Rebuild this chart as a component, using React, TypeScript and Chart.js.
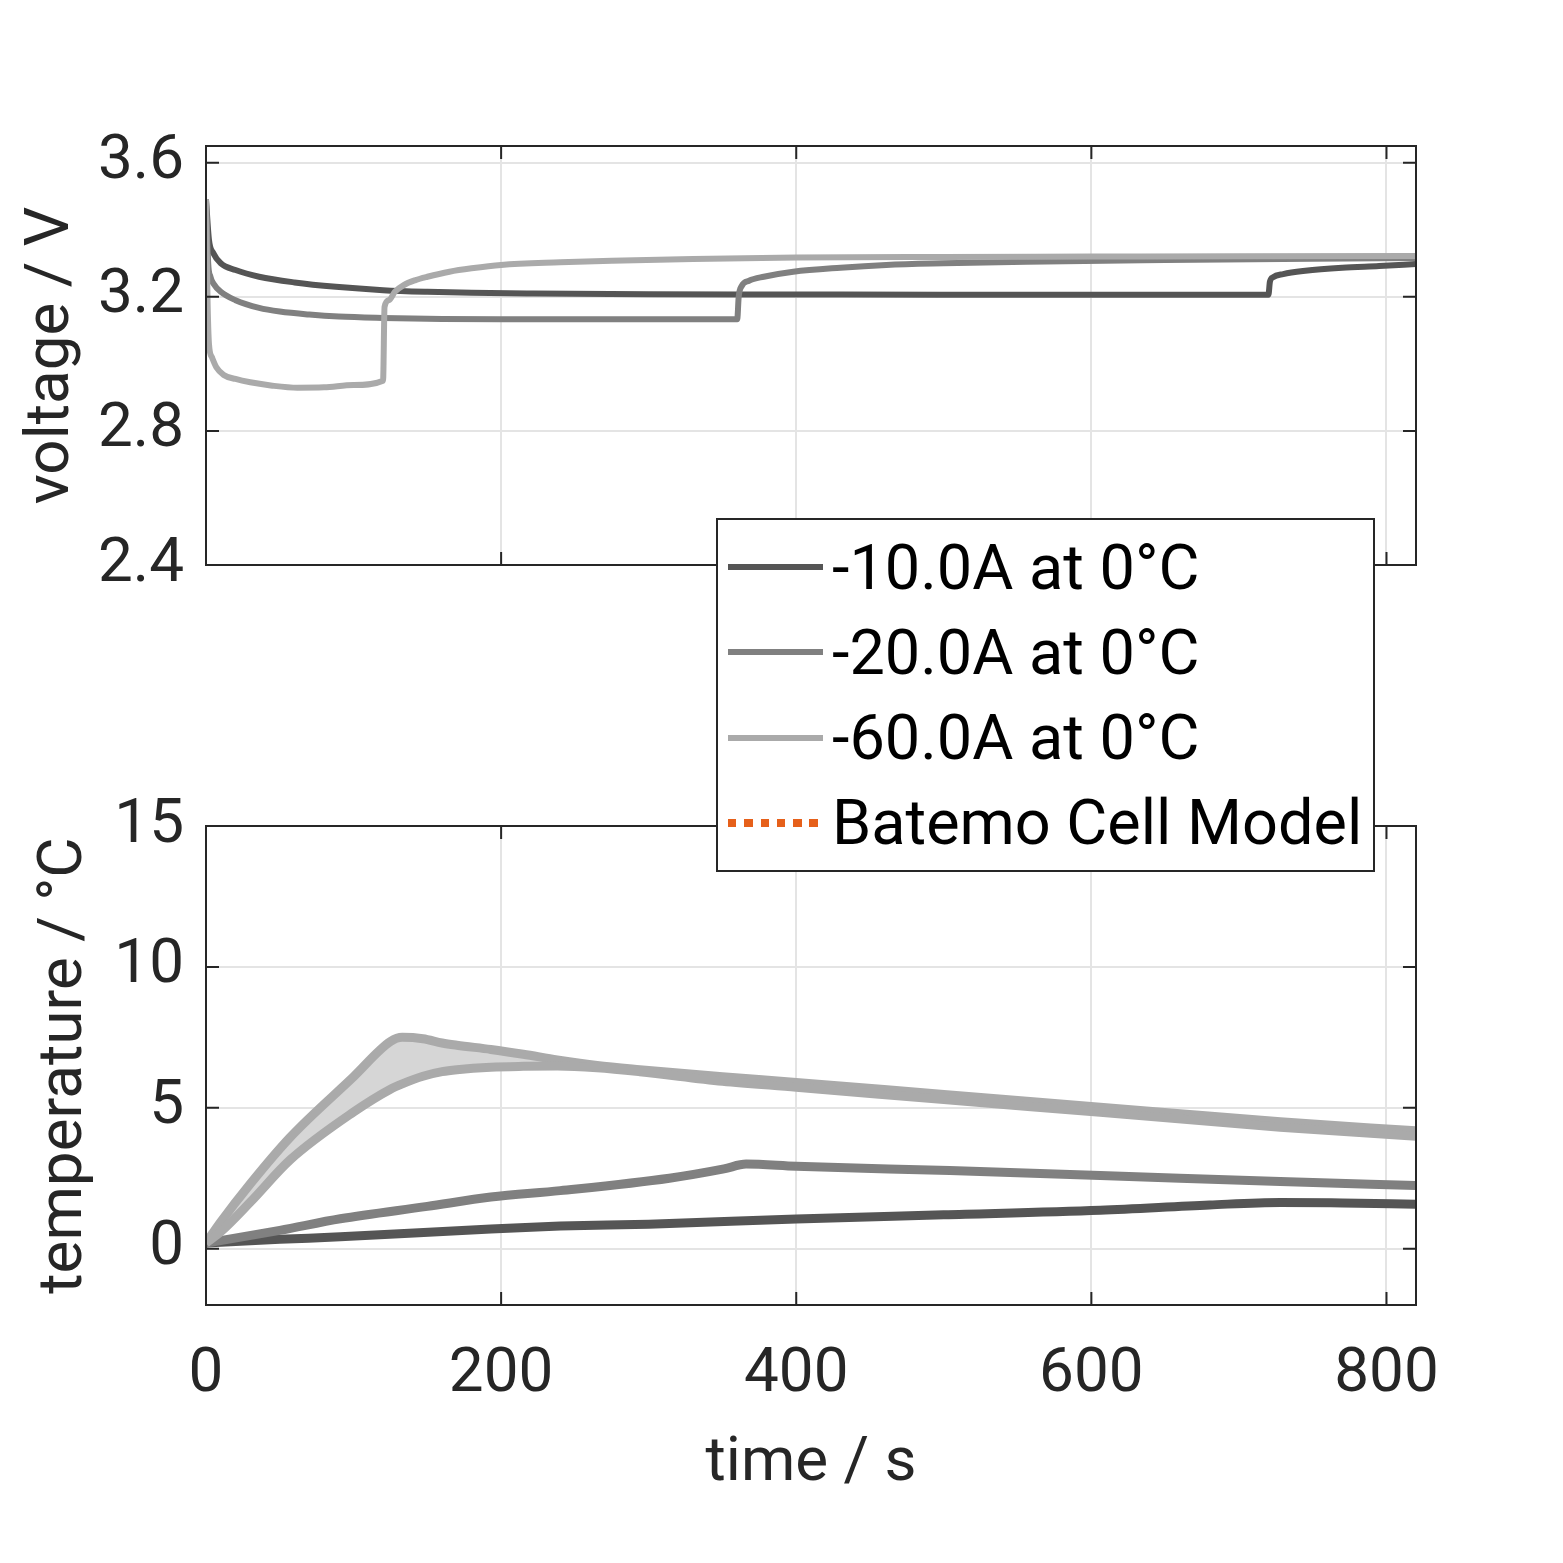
import React, { useEffect, useRef } from 'react';
import Chart from 'chart.js/auto';

// top panel: cell voltage (time in s, voltage in V)
const vTime10 = [0, 2, 5, 10, 20, 36, 60, 88, 120, 150, 180, 222, 300, 400, 500, 600, 720, 721, 723, 730, 745, 770, 795, 820];
const volt10 = [3.49, 3.37, 3.33, 3.3, 3.28, 3.26, 3.243, 3.23, 3.22, 3.215, 3.212, 3.21, 3.208, 3.207, 3.206, 3.206, 3.206, 3.245, 3.258, 3.268, 3.278, 3.287, 3.292, 3.298];

const vTime20 = [0, 1.5, 3, 5, 10, 20, 36, 50, 70, 90, 120, 160, 200, 280, 360, 361, 363, 368, 378, 398, 430, 461, 500, 556, 650, 750, 820];
const volt20 = [3.49, 3.3, 3.26, 3.24, 3.215, 3.19, 3.167, 3.156, 3.147, 3.141, 3.137, 3.134, 3.133, 3.133, 3.133, 3.2, 3.232, 3.248, 3.26, 3.275, 3.287, 3.295, 3.3, 3.305, 3.31, 3.314, 3.316];

const vTime60 = [0, 1, 2, 4, 7, 12, 20, 30, 45, 62, 80, 100, 120, 121, 124, 128, 134, 142, 150, 165, 180, 200, 240, 275, 330, 400, 500, 600, 700, 820];
const volt60 = [3.49, 3.2, 3.06, 3.02, 2.99, 2.967, 2.955, 2.945, 2.935, 2.929, 2.93, 2.937, 2.95, 3.17, 3.19, 3.215, 3.235, 3.25, 3.26, 3.275, 3.285, 3.295, 3.303, 3.308, 3.313, 3.317, 3.319, 3.32, 3.321, 3.322];

// bottom panel: cell temperature (time in s, temperature in °C)
const tTime10 = [0, 50, 91, 193, 240, 300, 400, 500, 606, 680, 728, 770, 820];
const temp10 = [0.2, 0.33, 0.42, 0.7, 0.8, 0.87, 1.05, 1.2, 1.36, 1.55, 1.64, 1.62, 1.58];

const tTime20 = [0, 50, 91, 150, 193, 240, 314, 351, 366, 400, 504, 606, 728, 820];
const temp20 = [0.2, 0.65, 1.06, 1.5, 1.83, 2.06, 2.5, 2.83, 3.0, 2.92, 2.77, 2.6, 2.38, 2.24];

const tTime60 = [0, 10, 30, 57, 100, 125, 133, 147, 160, 170, 193, 215, 238, 265, 294, 350, 400, 500, 606, 728, 820];
const temp60Upper = [0.2, 0.95, 2.3, 3.95, 6.1, 7.35, 7.5, 7.45, 7.3, 7.22, 7.07, 6.9, 6.7, 6.5, 6.35, 6.1, 5.9, 5.47, 5.02, 4.5, 4.18];
const temp60Lower = [0.2, 0.6, 1.65, 3.15, 4.85, 5.66, 5.85, 6.12, 6.28, 6.35, 6.44, 6.47, 6.48, 6.42, 6.28, 5.94, 5.73, 5.29, 4.84, 4.31, 3.99];

const timeTicks = [0, 200, 400, 600, 800];
const voltTicks = [2.4, 2.8, 3.2, 3.6];
const tempTicks = [0, 5, 10, 15];

const legendLabels = ['-10.0A at 0°C', '-20.0A at 0°C', '-60.0A at 0°C', 'Batemo Cell Model'];
const seriesColors = ['#555555', '#808080', '#aaaaaa'];
const modelColor = '#e6601a';
const bandColor = '#d6d6d6';

const INK = '#262626';
const GRID = '#e4e4e4';
const FONT = 'Roboto, "Noto Sans", sans-serif';
const SIZE = 62;

const pts = (xs: number[], ys: number[]) => xs.map((x, i) => ({ x, y: ys[i] }));

// MATLAB-like box with inward tick marks
const framePlugin = {
  id: 'frame',
  afterDraw(chart: any) {
    const { ctx, chartArea: a } = chart;
    const xs = chart.scales.x;
    const ys = chart.scales.y;
    const len = 13;
    ctx.save();
    ctx.strokeStyle = INK;
    ctx.lineWidth = 2;
    ctx.strokeRect(a.left, a.top, a.right - a.left, a.bottom - a.top);
    ctx.beginPath();
    xs.ticks.forEach((t: any) => {
      const p = xs.getPixelForValue(t.value);
      ctx.moveTo(p, a.bottom);
      ctx.lineTo(p, a.bottom - len);
      ctx.moveTo(p, a.top);
      ctx.lineTo(p, a.top + len);
    });
    ys.ticks.forEach((t: any) => {
      const p = ys.getPixelForValue(t.value);
      ctx.moveTo(a.left, p);
      ctx.lineTo(a.left + len, p);
      ctx.moveTo(a.right, p);
      ctx.lineTo(a.right - len, p);
    });
    ctx.stroke();
    ctx.restore();
  },
};

const lineSet = (label: string, data: any[], color: string, width: number, order: number, extra: any = {}) => ({
  label,
  data,
  borderColor: color,
  backgroundColor: color,
  borderWidth: width,
  pointRadius: 0,
  borderJoinStyle: 'round',
  cubicInterpolationMode: 'monotone',
  fill: false,
  order,
  ...extra,
});

const xAxis = (showText: boolean, height: number) => ({
  type: 'linear',
  min: 0,
  max: 820,
  afterBuildTicks: (s: any) => {
    s.ticks = timeTicks.map((value) => ({ value }));
  },
  afterFit: (s: any) => {
    s.height = height;
  },
  grid: { color: GRID, lineWidth: 2, drawTicks: false },
  border: { display: false },
  ticks: { display: showText, color: INK, padding: 33, font: { family: FONT, size: SIZE } },
  title: { display: showText, text: 'time / s', color: INK, padding: 0, font: { family: FONT, size: SIZE } },
});

const yAxis = (ticks: number[], min: number, max: number, title: string, titlePad: number) => ({
  type: 'linear',
  min,
  max,
  afterBuildTicks: (s: any) => {
    s.ticks = ticks.map((value) => ({ value }));
  },
  afterFit: (s: any) => {
    s.width = 206;
  },
  grid: { color: GRID, lineWidth: 2, drawTicks: false },
  border: { display: false },
  ticks: { color: INK, padding: 22, font: { family: FONT, size: SIZE } },
  title: { display: true, text: title, color: INK, padding: { top: titlePad, bottom: 0 }, font: { family: FONT, size: SIZE } },
});

const baseOptions = (padding: any, scales: any) => ({
  animation: false,
  responsive: true,
  maintainAspectRatio: false,
  events: [],
  layout: { padding },
  plugins: {
    legend: { display: false },
    tooltip: { enabled: false },
    filler: { drawTime: 'beforeDatasetsDraw' },
  },
  scales,
});

const layer: React.CSSProperties = { position: 'absolute', left: 0, top: 0, width: 1563, height: 1563 };

export default function App() {
  const topRef = useRef<HTMLCanvasElement>(null);
  const bottomRef = useRef<HTMLCanvasElement>(null);

  useEffect(() => {
    if (!topRef.current || !bottomRef.current) return;
    const top = new Chart(topRef.current, {
      type: 'line',
      data: {
        datasets: [
          lineSet(legendLabels[0], pts(vTime10, volt10), seriesColors[0], 6, 3),
          lineSet(legendLabels[1], pts(vTime20, volt20), seriesColors[1], 6, 2),
          lineSet(legendLabels[2], pts(vTime60, volt60), seriesColors[2], 6, 1),
        ],
      },
      options: baseOptions(
        { left: 0, top: 146, right: 147, bottom: 0 },
        { x: xAxis(false, 1563 - 565), y: yAxis(voltTicks, 2.4, 3.65, 'voltage / V', 15) }
      ) as any,
      plugins: [framePlugin],
    });
    const bottom = new Chart(bottomRef.current, {
      type: 'line',
      data: {
        datasets: [
          lineSet(legendLabels[2], pts(tTime60, temp60Upper), seriesColors[2], 9, 1, {
            fill: { target: '+1' },
            backgroundColor: bandColor,
          }),
          lineSet(legendLabels[2], pts(tTime60, temp60Lower), seriesColors[2], 9, 0),
          lineSet(legendLabels[1], pts(tTime20, temp20), seriesColors[1], 9, 2),
          lineSet(legendLabels[0], pts(tTime10, temp10), seriesColors[0], 9, 3),
        ],
      },
      options: baseOptions(
        { left: 0, top: 826, right: 147, bottom: 1563 - 1502 },
        { x: xAxis(true, 1502 - 1305), y: yAxis(tempTicks, -2, 15, 'temperature / °C', 28) }
      ) as any,
      plugins: [framePlugin],
    });
    return () => {
      top.destroy();
      bottom.destroy();
    };
  }, []);

  return (
    <div style={{ position: 'absolute', left: 0, top: 0, width: 1563, height: 1563, background: '#fff' }}>
      <div style={layer}>
        <canvas ref={bottomRef}></canvas>
      </div>
      <div style={layer}>
        <canvas ref={topRef}></canvas>
      </div>
      <div
        style={{
          position: 'absolute',
          left: 716,
          top: 518,
          width: 659,
          height: 354,
          border: `2px solid ${INK}`,
          boxSizing: 'border-box',
          background: '#fff',
        }}
      >
        {legendLabels.map((label, i) => (
          <div
            key={label}
            style={{
              position: 'absolute',
              left: 0,
              top: 47 + i * 85.3 - 42,
              height: 84,
              display: 'flex',
              alignItems: 'center',
            }}
          >
            <div
              style={{
                marginLeft: 10,
                width: 95,
                height: i < 3 ? 6 : 8,
                background:
                  i < 3
                    ? seriesColors[i]
                    : `repeating-linear-gradient(90deg, ${modelColor} 0 8.5px, transparent 8.5px 16.3px)`,
              }}
            />
            <span
              style={{
                marginLeft: 9,
                fontFamily: FONT,
                fontSize: 63,
                lineHeight: 1,
                color: '#000',
                whiteSpace: 'nowrap',
              }}
            >
              {label}
            </span>
          </div>
        ))}
      </div>
    </div>
  );
}
